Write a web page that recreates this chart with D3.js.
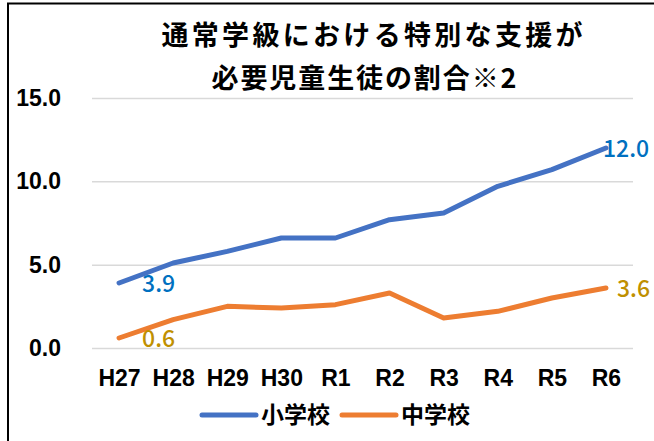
<!DOCTYPE html>
<html>
<head>
<meta charset="utf-8">
<script src="https://cdn.jsdelivr.net/npm/d3@7"></script>
<style>
  body { margin: 0; background: #fff; }
  svg { display: block; font-family: "Noto Sans CJK JP", "Noto Sans", sans-serif; }
</style>
</head>
<body>
<div id="chart"></div>
<script>
const years = ["H27", "H28", "H29", "H30", "R1", "R2", "R3", "R4", "R5", "R6"];
const elementary = [3.9, 5.1, 5.8, 6.6, 6.6, 7.7, 8.1, 9.7, 10.7, 12.0];
const juniorHigh = [0.6, 1.7, 2.5, 2.4, 2.6, 3.3, 1.8, 2.2, 3.0, 3.6];
const seriesNames = ["小学校", "中学校"];
const yTicks = [0, 5, 10, 15];
const titleLines = ["通常学級における特別な支援が", "必要児童生徒の割合※2"];

const width = 654, height = 441;
const plotLeft = 92, plotRight = 633, plotTop = 98, plotBottom = 348;

const series = [
  { name: seriesNames[0], values: elementary, color: "#4472C4", label: "#0070C0" },
  { name: seriesNames[1], values: juniorHigh, color: "#ED7D31", label: "#BF9000" }
];

const svg = d3.select("#chart").append("svg")
  .attr("width", width)
  .attr("height", height);

// chart frame (runs off right / bottom of picture)
svg.append("rect")
  .attr("x", 8).attr("y", 3.5)
  .attr("width", 700).attr("height", 500)
  .attr("fill", "none")
  .attr("stroke", "#000")
  .attr("stroke-width", 2);

const x = d3.scalePoint().domain(years).range([plotLeft, plotRight]).padding(0.5);
const y = d3.scaleLinear().domain([0, 15]).range([plotBottom, plotTop]);

// y axis + gridlines
const yAxis = svg.append("g")
  .attr("transform", `translate(${plotLeft},0)`)
  .call(d3.axisLeft(y)
    .tickValues(yTicks)
    .tickFormat(d3.format(".1f"))
    .tickSizeInner(-(plotRight - plotLeft))
    .tickSizeOuter(0)
    .tickPadding(31));
yAxis.select(".domain").remove();
yAxis.selectAll(".tick line").attr("stroke", "#D9D9D9").attr("stroke-width", 1.5);
yAxis.selectAll(".tick text")
  .attr("fill", "#000")
  .attr("font-size", 23)
  .attr("font-weight", "bold");

// x axis
const xAxis = svg.append("g")
  .attr("transform", `translate(0,${plotBottom})`)
  .call(d3.axisBottom(x).tickSize(0).tickPadding(22));
xAxis.select(".domain").remove();
xAxis.selectAll(".tick text")
  .attr("fill", "#000")
  .attr("font-size", 23)
  .attr("font-weight", "bold");

// title
svg.append("g").selectAll("text")
  .data(titleLines)
  .join("text")
  .attr("x", (d, i) => i === 0 ? 372 : 364)
  .attr("y", (d, i) => 45 + i * 43)
  .attr("text-anchor", "middle")
  .attr("font-size", 27)
  .attr("font-weight", "bold")
  .attr("fill", "#000")
  .attr("textLength", (d, i) => i === 0 ? 421 : 305)
  .attr("lengthAdjust", "spacing")
  .text(d => d);

// lines
const line = d3.line()
  .x((d, i) => x(years[i]))
  .y(d => y(d));

svg.append("g").selectAll("path")
  .data(series)
  .join("path")
  .attr("d", d => line(d.values))
  .attr("fill", "none")
  .attr("stroke", d => d.color)
  .attr("stroke-width", 5)
  .attr("stroke-linecap", "round")
  .attr("stroke-linejoin", "round");

// data labels: first and last point
const labels = [];
series.forEach((s, k) => {
  labels.push({ v: s.values[0], i: 0, color: s.label, dx: 23 });
  const n = s.values.length - 1;
  labels.push({ v: s.values[n], i: n, color: s.label, dx: k === 0 ? -3 : 11 });
});
svg.append("g").selectAll("text")
  .data(labels)
  .join("text")
  .attr("x", d => x(years[d.i]) + d.dx)
  .attr("y", d => y(d.v) + 1)
  .attr("dy", "0.35em")
  .attr("font-size", 23)
  .attr("font-weight", 500)
  .attr("fill", d => d.color)
  .text(d => d3.format(".1f")(d.v));

// legend
const legendX = [202, 342];
const legend = svg.append("g").selectAll("g")
  .data(series)
  .join("g")
  .attr("transform", (d, i) => `translate(${legendX[i]},415)`);
legend.append("line")
  .attr("x1", 0).attr("x2", 54)
  .attr("stroke", d => d.color)
  .attr("stroke-width", 5)
  .attr("stroke-linecap", "round");
legend.append("text")
  .attr("x", 59)
  .attr("dy", "0.35em")
  .attr("font-size", 23)
  .attr("font-weight", "bold")
  .attr("fill", "#000")
  .text(d => d.name);
</script>
</body>
</html>
